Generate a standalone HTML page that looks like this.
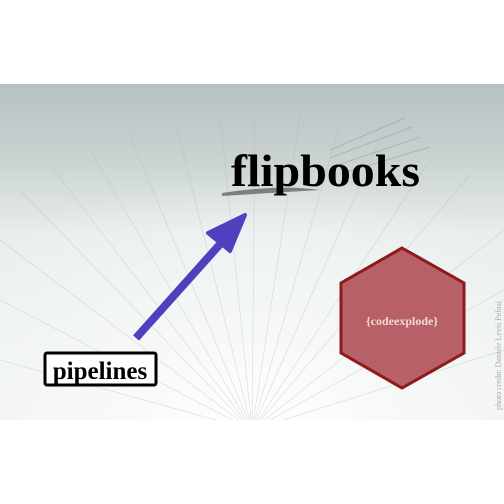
<!DOCTYPE html>
<html><head><style>
html,body{margin:0;padding:0;background:#fff;width:504px;height:504px;overflow:hidden}
</style></head><body>
<svg width="504" height="504" viewBox="0 0 504 504" xmlns="http://www.w3.org/2000/svg">
<defs>
<linearGradient id="bg" x1="0" y1="0" x2="0" y2="1">
<stop offset="0" stop-color="#b6c2c2"/>
<stop offset="0.2" stop-color="#c7d0cf"/>
<stop offset="0.45" stop-color="#e8eded"/>
<stop offset="1" stop-color="#f3f5f4"/>
</linearGradient>
<radialGradient id="glow" cx="0.5" cy="1" r="0.8">
<stop offset="0" stop-color="#ffffff" stop-opacity="0.95"/>
<stop offset="0.6" stop-color="#f4f7f6" stop-opacity="0.7"/>
<stop offset="1" stop-color="#f4f7f6" stop-opacity="0"/>
</radialGradient>
<clipPath id="c"><rect x="0" y="84" width="504" height="336"/></clipPath>
</defs>
<rect x="0" y="84" width="504" height="336" fill="url(#bg)"/>
<g clip-path="url(#c)">
<path d="M0,240 L50,165 L130,135 L220,115 L300,115 L380,140 L470,170 L504,185 L504,420 L0,420Z" fill="url(#glow)"/>
<g stroke="#a8b2b2" stroke-width="0.6" opacity="0.45" fill="none">
<line x1="252" y1="430" x2="0" y2="240"/>
<line x1="252" y1="430" x2="20" y2="190"/>
<line x1="252" y1="430" x2="50" y2="165"/>
<line x1="252" y1="430" x2="90" y2="150"/>
<line x1="252" y1="430" x2="130" y2="135"/>
<line x1="252" y1="430" x2="175" y2="120"/>
<line x1="252" y1="430" x2="220" y2="115"/>
<line x1="252" y1="430" x2="255" y2="115"/>
<line x1="252" y1="430" x2="300" y2="115"/>
<line x1="252" y1="430" x2="340" y2="125"/>
<line x1="252" y1="430" x2="380" y2="140"/>
<line x1="252" y1="430" x2="430" y2="160"/>
<line x1="252" y1="430" x2="470" y2="175"/>
<line x1="252" y1="430" x2="504" y2="230"/>
<line x1="252" y1="430" x2="504" y2="290"/>
<line x1="252" y1="430" x2="0" y2="300"/>
<line x1="252" y1="430" x2="0" y2="360"/>
<line x1="252" y1="430" x2="504" y2="350"/>
</g>
<g stroke="#8a9494" stroke-width="1" opacity="0.45">
<line x1="330" y1="150" x2="405" y2="118"/>
<line x1="330" y1="158" x2="412" y2="127"/>
<line x1="335" y1="166" x2="420" y2="137"/>
<line x1="340" y1="174" x2="430" y2="147"/>
</g>
<path d="M222,193 Q280,184 320,190 L222,196Z" fill="#555" opacity="0.7"/>
</g>
<text x="231" y="186" font-family="Liberation Serif, serif" font-weight="bold" font-size="46" textLength="189" lengthAdjust="spacingAndGlyphs" fill="#000">flipbooks</text>
<line x1="136" y1="338" x2="222" y2="242" stroke="#5040c0" stroke-width="8"/>
<polygon points="208,233 245,215 230,251" fill="#5040c0" stroke="#5040c0" stroke-width="4" stroke-linejoin="round"/>
<rect x="45" y="353" width="111" height="32" rx="2" fill="#fff" stroke="#000" stroke-width="3"/>
<text x="100" y="379" text-anchor="middle" font-family="Liberation Serif, serif" font-weight="bold" font-size="25" fill="#000">pipelines</text>
<polygon points="402,248 464,283 464,353 402,388 341,353 341,283" fill="#b05058" fill-opacity="0.9" stroke="#8e1a1e" stroke-width="3"/>
<text x="402" y="325" text-anchor="middle" font-family="Liberation Serif, serif" font-weight="bold" font-size="12" fill="#f2d8d4">{codeexplode}</text>
<text transform="translate(501,410) rotate(-90)" font-family="Liberation Serif, serif" font-size="8" fill="#aaa">photo credit: Daniele Levis Pelusi</text>
</svg>
</body></html>
